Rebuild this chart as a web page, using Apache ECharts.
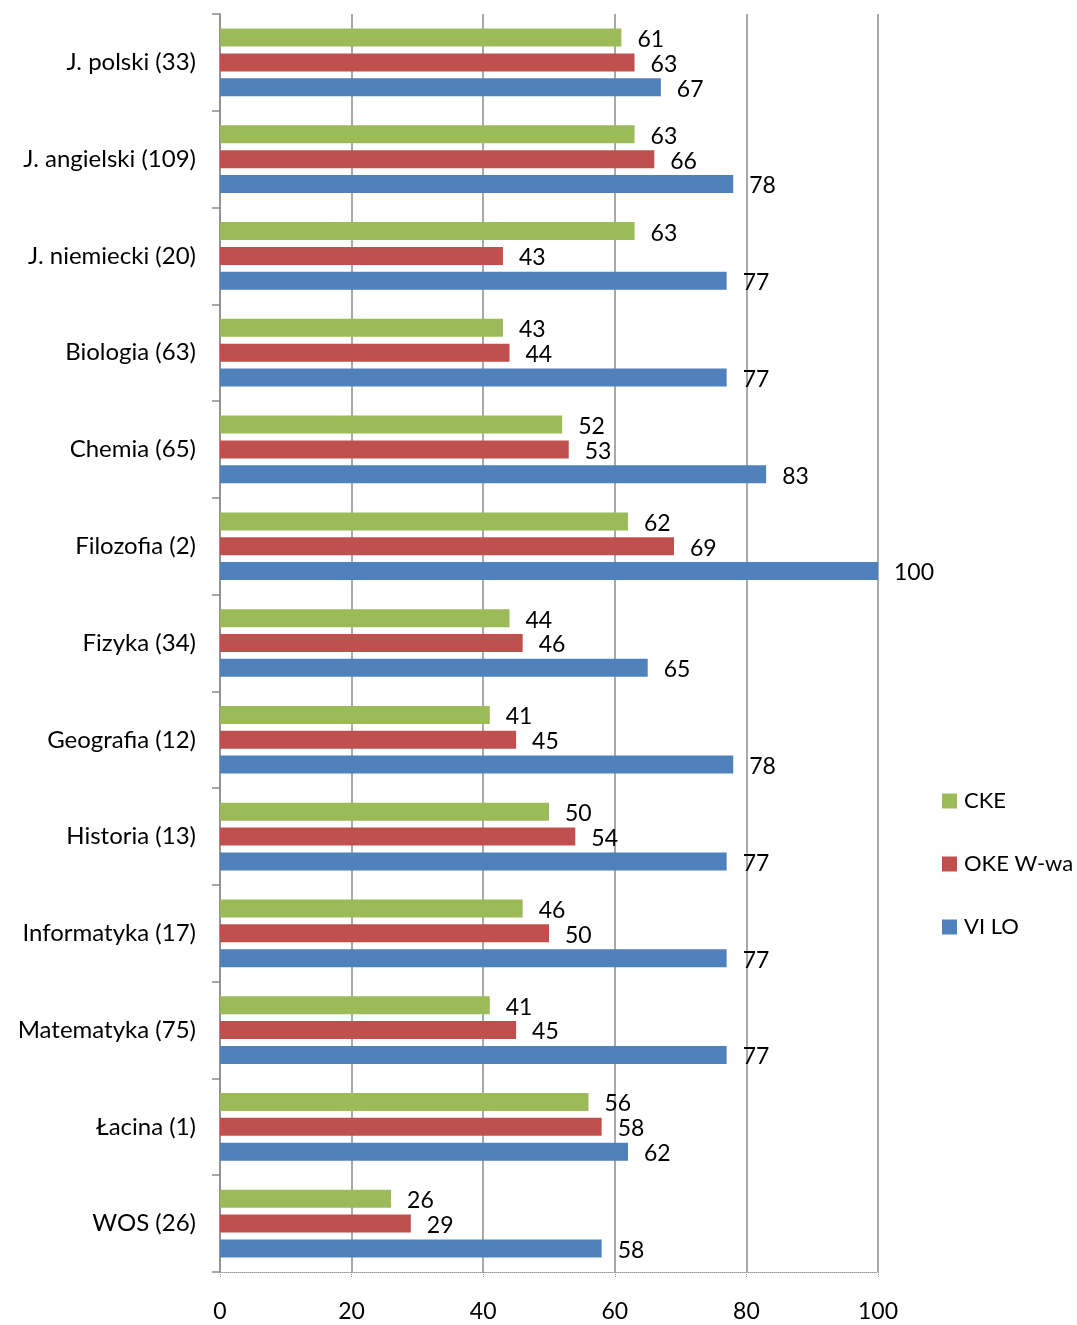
<!DOCTYPE html>
<html>
<head>
<meta charset="utf-8">
<script src="https://cdn.jsdelivr.net/npm/echarts@6/dist/echarts.min.js"></script>
<style>html,body{margin:0;padding:0;background:#fff}#c{width:1077px;height:1325px}</style>
</head>
<body>
<div id="c"></div>
<script>
const categories = ['J. polski (33)','J. angielski (109)','J. niemiecki (20)','Biologia (63)','Chemia (65)','Filozofia (2)','Fizyka (34)','Geografia (12)','Historia (13)','Informatyka (17)','Matematyka (75)','Łacina (1)','WOS (26)'];
const seriesNames = ['CKE','OKE W-wa','VI LO'];
const cke = [61,63,63,43,52,62,44,41,50,46,41,56,26];
const oke = [63,66,43,44,53,69,46,45,54,50,45,58,29];
const vilo = [67,78,77,77,83,100,65,78,77,77,77,62,58];
const xTicks = [0,20,40,60,80,100];
const colors = ['#9BBB59','#C0504D','#4F81BD'];
const FONT = 'Lato';

const chart = echarts.init(document.getElementById('c'));
const mk = (name, data, color) => ({
  name, type: 'bar', data, barWidth: 18, barGap: '38%', barCategoryGap: '30%',
  itemStyle: {color},
  label: {show: true, position: 'right', distance: 16, color: '#000', fontFamily: FONT, fontSize: 23, offset:[0,2]}
});
chart.setOption({
  animation: false,
  textStyle: {fontFamily: FONT},
  grid: {left: 220, top: 14, width: 658, height: 1258, containLabel: false},
  legend: {
    orient: 'vertical', left: 942, top: 790, padding: 0, itemWidth: 15, itemHeight: 15, itemGap: 41,
    icon: 'rect', textStyle: {fontFamily: FONT, fontSize: 22, color: '#000', padding:[0,0,0,2]},
    data: seriesNames
  },
  xAxis: {
    type: 'value', min: xTicks[0], max: xTicks[xTicks.length-1], interval: 20,
    axisLine: {show: true, lineStyle: {color: '#9a9a9a', type: 'dotted', width: 1}},
    axisTick: {show: true, length: 6, lineStyle: {color: '#9a9a9a', type: 'dotted'}},
    axisLabel: {color: '#000', fontFamily: FONT, fontSize: 23, margin: 28},
    splitLine: {show: true, lineStyle: {color: '#8c8c8c', width: 1.5}}
  },
  yAxis: {
    type: 'category', data: categories, inverse: true,
    axisLine: {show: true, lineStyle: {color: '#8c8c8c', width: 1.5}},
    axisTick: {show: true, length: 8, lineStyle: {color: '#8c8c8c', width: 1.5}},
    axisLabel: {color: '#000', fontFamily: FONT, fontSize: 24, margin: 24}
  },
  series: [mk(seriesNames[0], cke, colors[0]), mk(seriesNames[1], oke, colors[1]), mk(seriesNames[2], vilo, colors[2])]
});
</script>
</body>
</html>
